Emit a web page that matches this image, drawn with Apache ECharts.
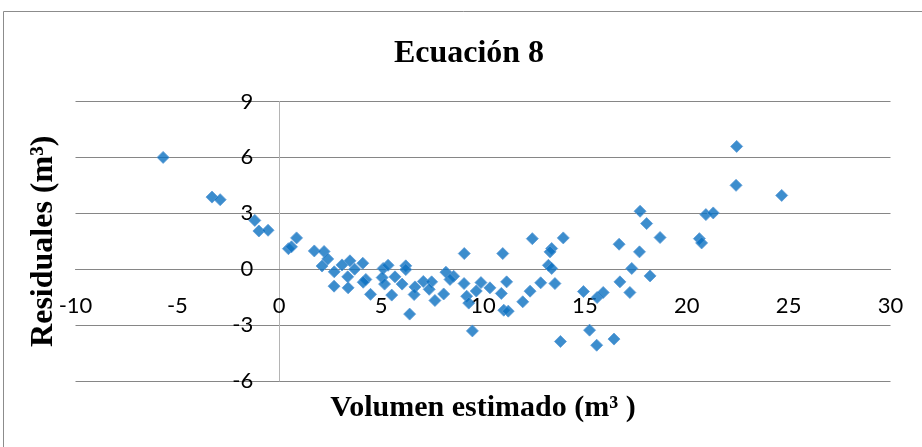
<!DOCTYPE html>
<html>
<head>
<meta charset="utf-8">
<script src="https://cdn.jsdelivr.net/npm/echarts@6/dist/echarts.min.js"></script>
<style>
  html, body { margin: 0; padding: 0; background: #ffffff; }
  #chart { width: 922px; height: 447px; }
</style>
</head>
<body>
<div id="chart"></div>
<script>
// Estimated volume (m³) for each tree
const volumenEstimado = [
  -5.7, -3.3, -2.9, -1.2, -1.0, -0.55, 0.45, 0.6, 0.85, 1.72,
  2.2, 2.38, 2.1, 2.7, 3.08, 3.47, 3.7, 3.36, 2.69, 3.38,
  4.1, 4.25, 4.12, 4.48, 5.1, 5.34, 5.05, 5.17, 5.52, 5.68,
  6.03, 6.21, 6.21, 6.4, 6.66, 6.62, 7.07, 7.48, 7.36, 7.64,
  8.07, 8.18, 8.56, 8.38, 9.08, 9.07, 9.2, 9.3, 9.48, 9.9,
  9.67, 10.34, 10.9, 10.97, 11.16, 11.02, 11.24, 11.95, 12.31, 12.42,
  12.83, 13.21, 13.37, 13.37, 13.29, 13.53, 13.94, 13.8, 14.93, 15.23,
  15.58, 15.6, 15.9, 16.43, 16.68, 16.72, 17.21, 17.3, 17.68, 17.71,
  18.03, 18.2, 18.69, 20.62, 20.73, 20.94, 21.3, 22.42, 22.45, 24.66
];

// Residual (m³) for each tree
const residuales = [
  6.0, 3.87, 3.73, 2.62, 2.05, 2.09, 1.1, 1.2, 1.68, 0.98,
  0.95, 0.55, 0.17, -0.14, 0.23, 0.45, 0.0, -0.41, -0.91, -1.0,
  0.32, -0.55, -0.7, -1.35, 0.04, 0.21, -0.45, -0.8, -1.39, -0.41,
  -0.8, 0.18, -0.02, -2.41, -0.95, -1.36, -0.66, -0.68, -1.08, -1.68,
  -1.33, -0.16, -0.38, -0.55, 0.84, -0.77, -1.45, -1.82, -3.31, -0.72,
  -1.17, -1.0, -1.3, 0.84, -0.68, -2.2, -2.25, -1.75, -1.18, 1.64,
  -0.73, 0.21, 0.04, 1.11, 0.93, -0.77, 1.68, -3.88, -1.2, -3.27,
  -4.08, -1.52, -1.25, -3.75, 1.34, -0.68, -1.25, 0.04, 0.93, 3.11,
  2.45, -0.36, 1.7, 1.64, 1.41, 2.93, 3.02, 4.5, 6.59, 3.96
];

const xTicks = { min: -10, max: 30, step: 5 };
const yTicks = { min: -6, max: 9, step: 3 };

const puntos = volumenEstimado.map((v, i) => [v, residuales[i]]);

const serifBold = { fontFamily: '"Liberation Serif", "Times New Roman", serif', fontWeight: 'bold', color: '#000' };
const tickFont = { fontFamily: 'Lato, "Open Sans", sans-serif', fontSize: 22, color: '#000' };

const chart = echarts.init(document.getElementById('chart'), null, { renderer: 'canvas' });

chart.setOption({
  animation: false,
  backgroundColor: '#ffffff',
  title: {
    text: 'Ecuación 8',
    left: 464,
    top: 33,
    textAlign: 'center',
    textStyle: Object.assign({ fontSize: 32 }, serifBold)
  },
  graphic: [{
    type: 'rect',
    shape: { x: 3.5, y: 11.5, width: 940, height: 460 },
    style: { fill: 'none', stroke: '#8c8c8c', lineWidth: 1 },
    silent: true,
    z: -1
  }],
  grid: {
    left: 75.5, right: 31.5, top: 101.5, bottom: 66,
    containLabel: false,
    outerBoundsMode: 'none'
  },
  xAxis: {
    type: 'value',
    position: 'bottom',
    min: xTicks.min,
    max: xTicks.max,
    interval: xTicks.step,
    name: 'Volumen estimado (m³ )',
    nameLocation: 'middle',
    nameGap: 124,
    nameTextStyle: Object.assign({ fontSize: 30 }, serifBold),
    axisLine: { show: true, onZero: false, lineStyle: { color: '#868686', width: 1 } },
    axisTick: { show: false },
    axisLabel: Object.assign({ margin: 26 }, tickFont),
    splitLine: { show: false }
  },
  yAxis: {
    type: 'value',
    position: 'left',
    min: yTicks.min,
    max: yTicks.max,
    interval: yTicks.step,
    name: 'Residuales (m³)',
    nameLocation: 'middle',
    nameGap: 220,
    nameTextStyle: Object.assign({ fontSize: 32 }, serifBold),
    axisLine: { show: true, onZero: false, lineStyle: { color: '#b4b4b4', width: 1 } },
    axisTick: { show: false },
    axisLabel: Object.assign({ margin: 26 }, tickFont),
    splitLine: { show: true, lineStyle: { color: '#868686', width: 1 } }
  },
  series: [{
    type: 'scatter',
    data: puntos,
    symbol: 'diamond',
    symbolSize: 12,
    itemStyle: { color: '#0b70c1', borderColor: '#5a9ad6', borderWidth: 1 }
  }]
});

// Move both axes (line, labels and title) so they cross at the origin.
const origen = chart.convertToPixel({ gridIndex: 0 }, [0, 0]);
const esquina = chart.convertToPixel({ gridIndex: 0 }, [xTicks.min, yTicks.min]);
chart.setOption({
  xAxis: { offset: origen[1] - esquina[1] },
  yAxis: { offset: esquina[0] - origen[0] }
});
</script>
</body>
</html>
